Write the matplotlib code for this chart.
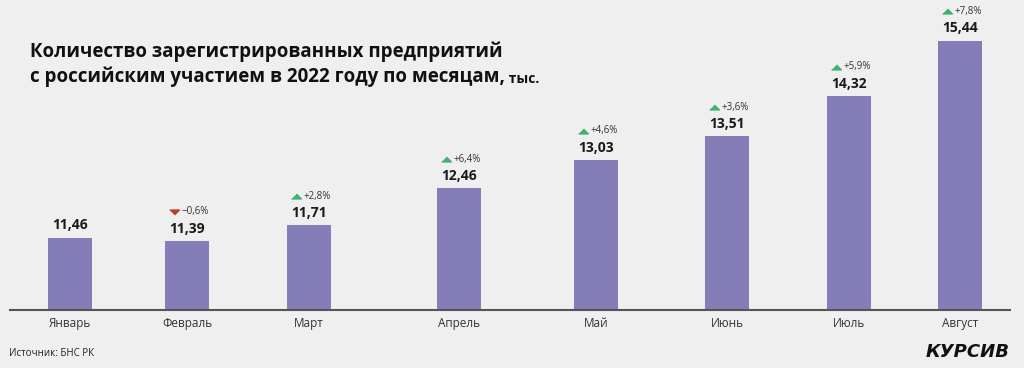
import numpy as np
import matplotlib.pyplot as plt
from matplotlib.transforms import offset_copy

months = ['Январь', 'Февраль', 'Март', 'Апрель', 'Май', 'Июнь', 'Июль', 'Август']
values = [11.46, 11.39, 11.71, 12.46, 13.03, 13.51, 14.32, 15.44]
changes = [None, -0.6, 2.8, 6.4, 4.6, 3.6, 5.9, 7.8]

# bars are not evenly spaced in the original layout
x_pos = [0, 0.92, 1.88, 3.06, 4.14, 5.17, 6.13, 7.0]

plt.rcParams['font.family'] = ['Open Sans', 'DejaVu Sans']

bg = '#efefef'
bar_color = '#857db7'
up_color = '#3cb371'
down_color = '#c0392b'

fig = plt.figure(figsize=(10.24, 3.68), dpi=100, facecolor=bg)
ax = fig.add_axes([10 / 1024, 58 / 368, 1000 / 1024, 310 / 368])
ax.set_facecolor(bg)

ax.bar(x_pos, values, width=0.345, bottom=0, color=bar_color, zorder=2)
ax.set_ylim(10, 16.26)
ax.set_xlim(-0.472, 7.393)

# flat triangles like in the original
tri_up = [(-1, -0.5), (1, -0.5), (0, 0.5)]
tri_down = [(-1, 0.5), (1, 0.5), (0, -0.5)]
tri_trans = offset_copy(ax.transData, fig=fig, x=-9.5, y=21, units='points')

for xi, v, ch in zip(x_pos, values, changes):
    ax.annotate(f'{v:.2f}'.replace('.', ','), (xi, v), xytext=(0, 6),
                textcoords='offset points', ha='center', va='baseline',
                fontsize=10, fontweight='bold', color='#1a1a1a')
    if ch is None:
        continue
    col = up_color if ch > 0 else down_color
    sign = '+' if ch > 0 else '\u2212'
    ax.plot(xi, v, marker=tri_up if ch > 0 else tri_down, markersize=7,
            color=col, linestyle='none', transform=tri_trans, clip_on=False)
    ax.annotate(f'{sign}{abs(ch):.1f}%'.replace('.', ','), (xi, v),
                xytext=(-4, 21), textcoords='offset points',
                ha='left', va='center', fontsize=7, color='#333333')

for s in ['top', 'right', 'left']:
    ax.spines[s].set_visible(False)
ax.spines['bottom'].set_color('#555555')
ax.spines['bottom'].set_linewidth(1.5)
ax.set_yticks([])
ax.set_xticks(x_pos)
ax.set_xticklabels(months, fontsize=8.5, color='#333333')
ax.tick_params(axis='x', length=0, pad=5)

fig.text(30 / 1024, 1 - 52 / 368, 'Количество зарегистрированных предприятий',
         fontsize=13.5, fontweight='bold', color='#111111', va='center')
line2 = fig.text(30 / 1024, 1 - 77 / 368, 'с российским участием в 2022 году по месяцам,',
                 fontsize=13.5, fontweight='bold', color='#111111', va='center')
fig.canvas.draw()
ax.annotate(' тыс.', xy=(1, 0.05), xycoords=line2, va='bottom', ha='left',
            fontsize=10, fontweight='bold', color='#111111')

fig.text(9 / 1024, 1 - 353 / 368, 'Источник: БНС РК', fontsize=7,
         color='#222222', va='center')
fig.text(1010 / 1024, 1 - 352 / 368, 'КУРСИВ', fontsize=13, fontweight='heavy',
         style='italic', family='DejaVu Sans', color='#111111',
         ha='right', va='center')

fig.savefig('out.png', dpi=100, facecolor=bg)
